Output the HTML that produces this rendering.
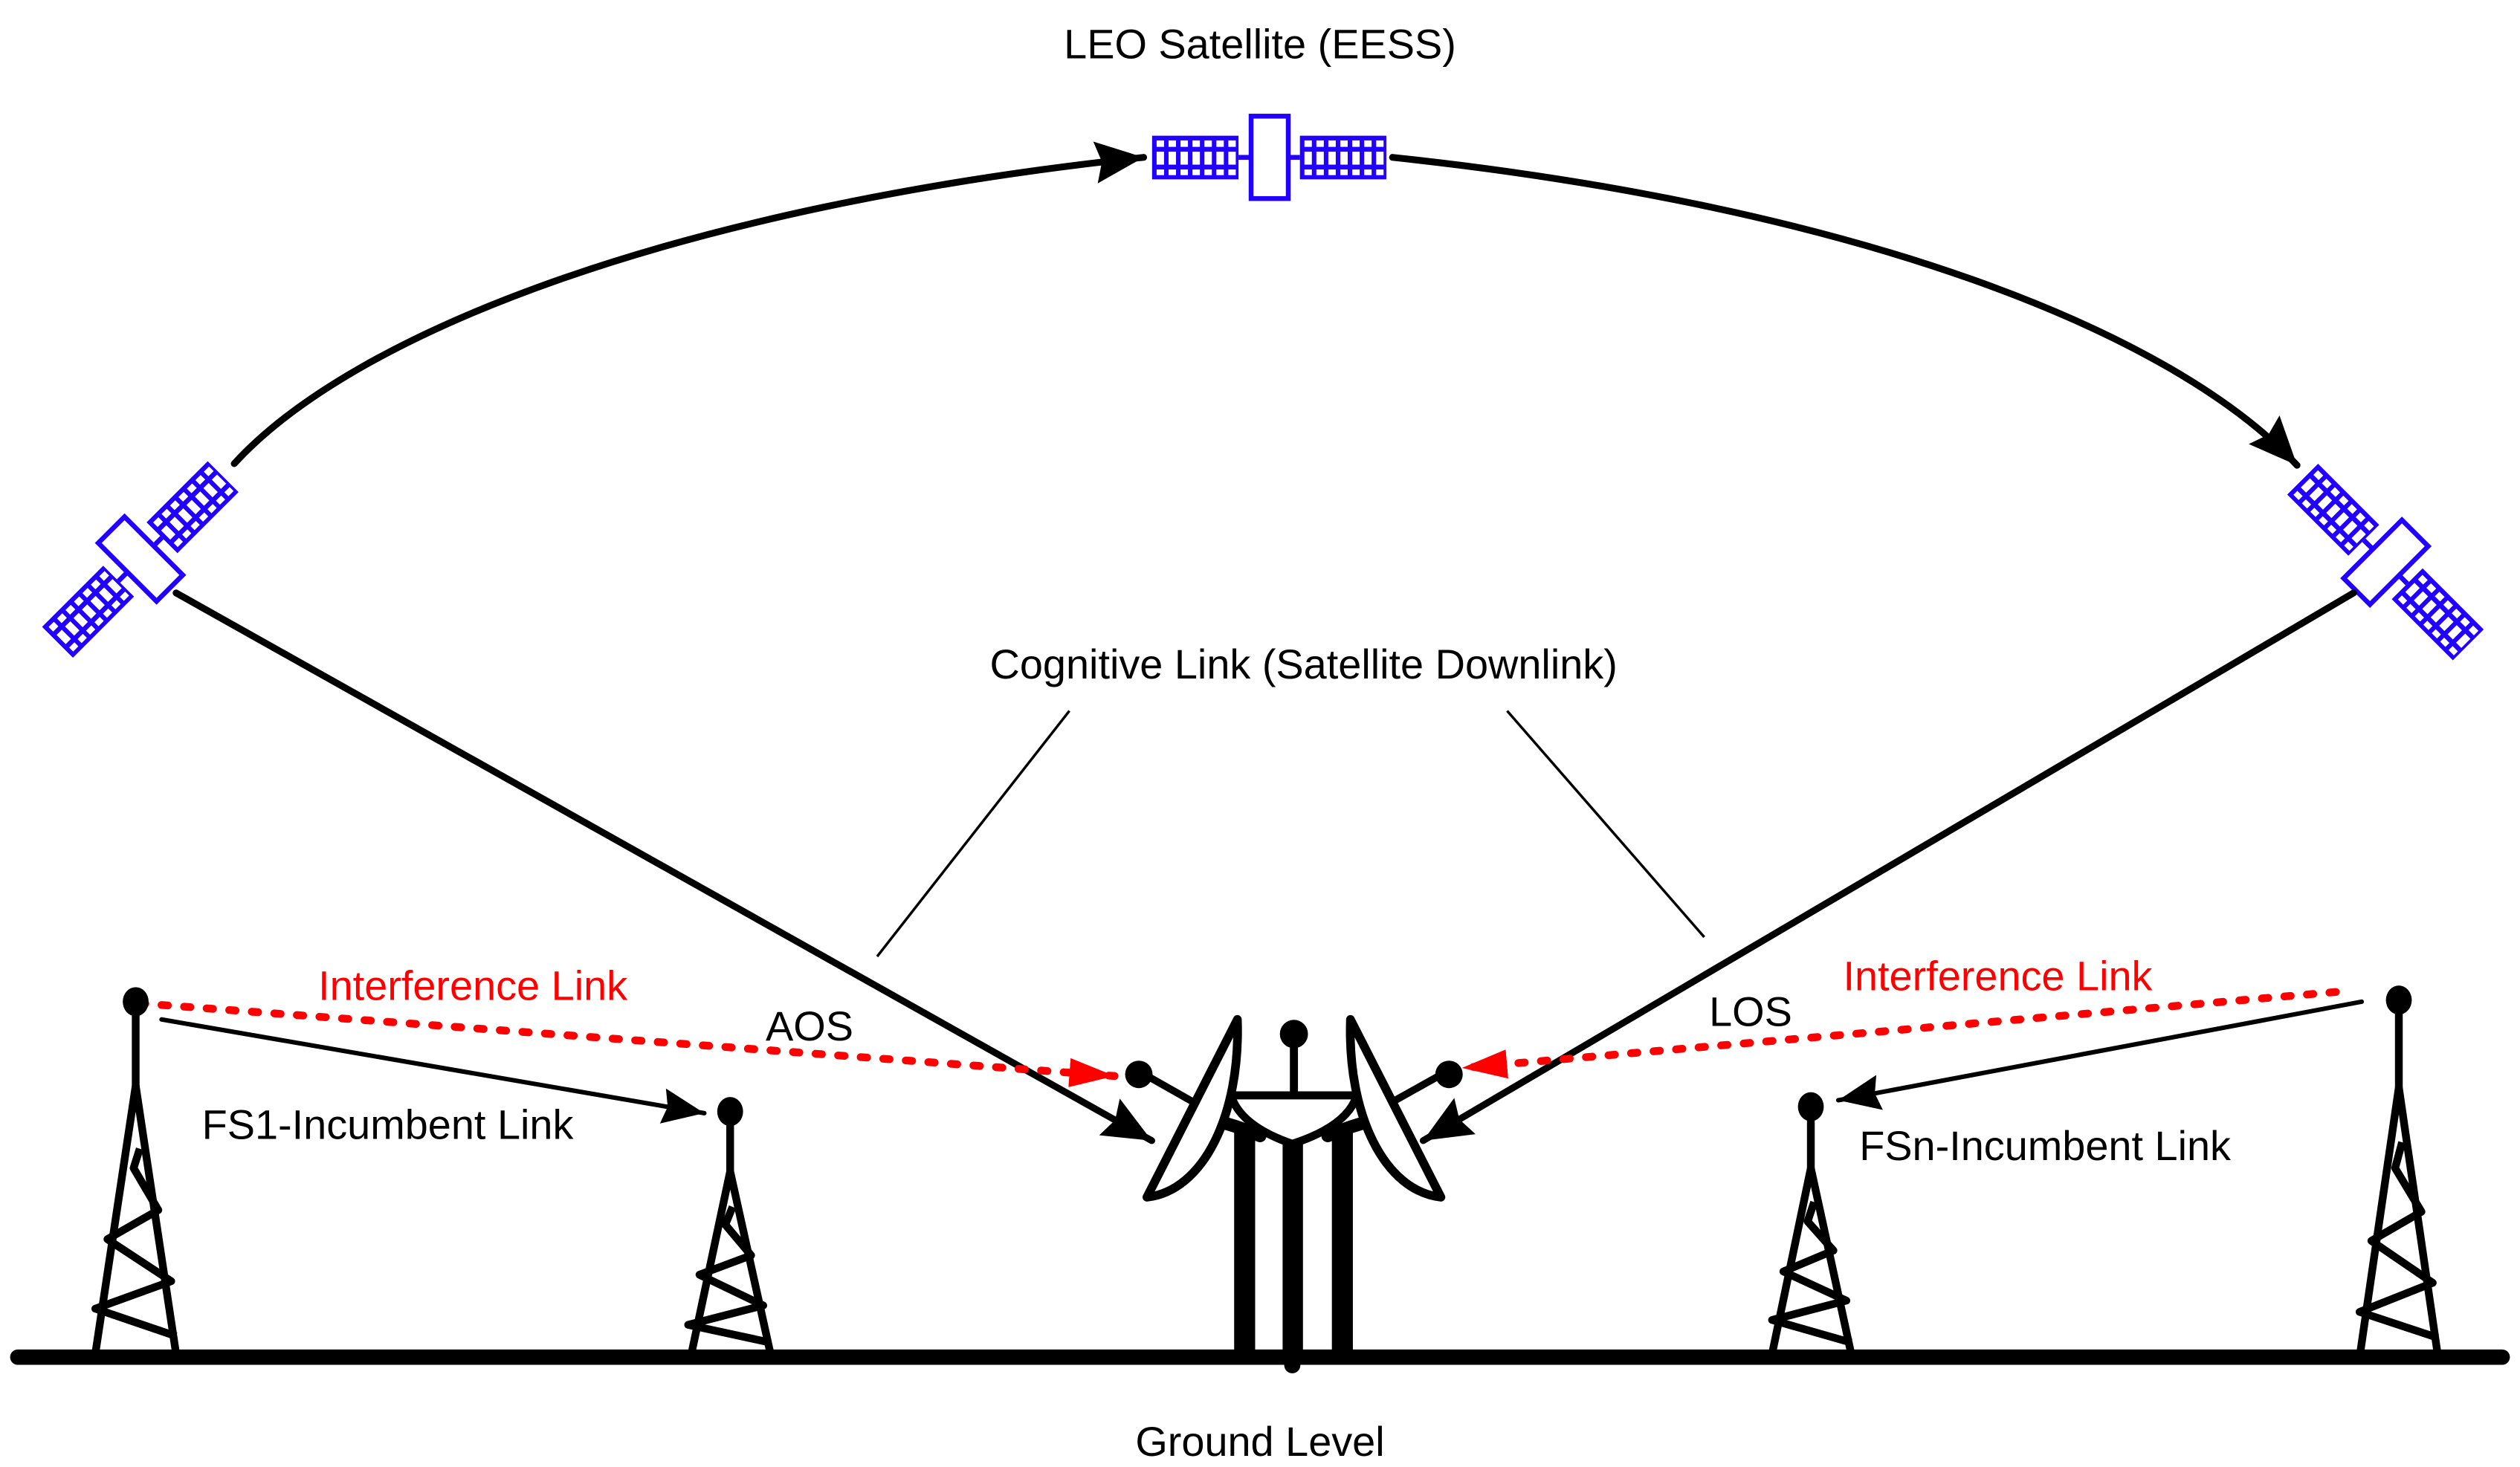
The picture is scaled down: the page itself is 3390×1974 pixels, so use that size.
<!DOCTYPE html>
<html><head><meta charset="utf-8"><style>
html,body{margin:0;padding:0;background:#fff;}
svg{display:block;}
text{font-family:"Liberation Sans",Arial,sans-serif;font-size:25.7px;}
</style></head><body>
<svg width="3390" height="1974" viewBox="0 0 1560 908" preserveAspectRatio="none" xmlns="http://www.w3.org/2000/svg">
<defs>
<marker id="ab" markerUnits="userSpaceOnUse" markerWidth="34" markerHeight="28" refX="30" refY="13" orient="auto" viewBox="0 0 34 28"><path d="M0,0 L30,13 L0,26 L4,13 Z" fill="#000"/></marker>
<marker id="as" markerUnits="userSpaceOnUse" markerWidth="30" markerHeight="24" refX="26" refY="11" orient="auto" viewBox="0 0 30 24"><path d="M0,0 L26,11 L0,22 L3,11 Z" fill="#000"/></marker>
<marker id="ar" markerUnits="userSpaceOnUse" markerWidth="32" markerHeight="22" refX="28" refY="9" orient="auto" viewBox="0 0 32 22"><path d="M0,0 L28,9 L0,18 Z" fill="#f00"/></marker>
<g id="sat">
  <rect x="-11.5" y="-25.5" width="23" height="51" fill="#fff" stroke="#2200ff" stroke-width="3"/>
  <line x1="-19.3" y1="0" x2="-11.5" y2="0" stroke="#2200ff" stroke-width="3"/>
  <line x1="11.5" y1="0" x2="18.7" y2="0" stroke="#2200ff" stroke-width="3"/>
  <g id="panel">
    <rect x="-72.8" y="-13.4" width="53.5" height="27" fill="#2200ff"/>
    <g fill="#fff">
      <rect x="-70" y="-10.5" width="4.6" height="4"/><rect x="-62.6" y="-10.5" width="4.6" height="4"/><rect x="-55.2" y="-10.5" width="4.6" height="4"/><rect x="-47.8" y="-10.5" width="4.6" height="4"/><rect x="-40.4" y="-10.5" width="4.6" height="4"/><rect x="-33" y="-10.5" width="4.6" height="4"/><rect x="-25.6" y="-10.5" width="4.6" height="4"/>
      <rect x="-70" y="-3.5" width="4.6" height="8"/><rect x="-62.6" y="-3.5" width="4.6" height="8"/><rect x="-55.2" y="-3.5" width="4.6" height="8"/><rect x="-47.8" y="-3.5" width="4.6" height="8"/><rect x="-40.4" y="-3.5" width="4.6" height="8"/><rect x="-33" y="-3.5" width="4.6" height="8"/><rect x="-25.6" y="-3.5" width="4.6" height="8"/>
      <rect x="-70" y="7.5" width="4.6" height="3.5"/><rect x="-62.6" y="7.5" width="4.6" height="3.5"/><rect x="-55.2" y="7.5" width="4.6" height="3.5"/><rect x="-47.8" y="7.5" width="4.6" height="3.5"/><rect x="-40.4" y="7.5" width="4.6" height="3.5"/><rect x="-33" y="7.5" width="4.6" height="3.5"/><rect x="-25.6" y="7.5" width="4.6" height="3.5"/>
    </g>
  </g>
  <use href="#panel" transform="translate(91.5,0)"/>
</g>
</defs>

<use href="#sat" transform="translate(786,97.4)"/>
<use href="#sat" transform="translate(87,346) rotate(-45)"/>
<use href="#sat" transform="translate(1477,348) rotate(45)"/>

<g fill="none" stroke="#000" stroke-width="4.2" stroke-linecap="round">
<path d="M145,287 C220,205 420,128 708,97.4" marker-end="url(#ab)"/>
<path d="M862,97.4 C1150,128 1345,205 1422,288" marker-end="url(#ab)"/>
<line x1="109" y1="367" x2="713" y2="706" marker-end="url(#ab)"/>
<line x1="1457" y1="367" x2="881" y2="706" marker-end="url(#ab)"/>
</g>
<g stroke="#000" stroke-width="1.6">
<line x1="662" y1="440" x2="543" y2="592"/>
<line x1="933" y1="440" x2="1055" y2="580"/>
</g>
<g stroke="#000" stroke-width="2.8" stroke-linecap="round">
<line x1="100" y1="631" x2="436" y2="689" marker-end="url(#as)"/>
<line x1="1462" y1="620" x2="1138" y2="681" marker-end="url(#as)"/>
</g>
<g stroke="#f00" stroke-width="4.8" stroke-linecap="round" stroke-dasharray="4,10" fill="none">
<line x1="86" y1="621" x2="690" y2="666" marker-end="url(#ar)"/>
<line x1="1446" y1="614" x2="905" y2="661" marker-end="url(#ar)"/>
</g>

<g fill="none" stroke="#000" stroke-width="4.8" stroke-linejoin="round">
<line x1="84" y1="620" x2="84" y2="673"/>
<polyline points="59,838 84,672 109,838"/>
<polyline points="86.5,711 82.7,723 98,749 66.5,767 106,793 59,810 109,827"/>
<line x1="452" y1="685" x2="452" y2="725"/>
<polyline points="428,838 452,725 477,838"/>
<polyline points="453.5,747 449,758 465,777 433,789 472.5,808 426,820 477,831"/>
<line x1="1121" y1="682" x2="1121" y2="723"/>
<polyline points="1097,838 1121,723 1146,838"/>
<polyline points="1123,744 1119,756 1135,774 1104,787 1143,805 1097,817 1146,831"/>
<line x1="1485" y1="617" x2="1485" y2="673"/>
<polyline points="1461,838 1485,673 1509,838"/>
<polyline points="1487,707 1482.7,723 1499,750 1468,768 1506,794 1460.7,812 1509,828"/>
</g>
<g fill="#000">
<ellipse cx="84" cy="620" rx="8" ry="9"/>
<ellipse cx="452" cy="688" rx="8" ry="9"/>
<ellipse cx="1121" cy="685" rx="8" ry="9"/>
<ellipse cx="1485" cy="619" rx="8" ry="9"/>
</g>

<g fill="#000">
<rect x="764" y="701" width="13" height="137"/>
<rect x="794" y="705" width="12.6" height="133"/>
<rect x="824.5" y="701" width="13" height="137"/>
</g>
<g fill="none" stroke="#000" stroke-linecap="round">
<path d="M749,693 Q764,696 780,703" stroke-width="8"/>
<path d="M853,693 Q838,696 822,703" stroke-width="8"/>
<line x1="801" y1="640" x2="801" y2="675" stroke-width="5"/>
<line x1="705" y1="663" x2="742" y2="684" stroke-width="4.5"/>
<line x1="896" y1="663" x2="862" y2="682" stroke-width="4.5"/>
</g>
<path d="M762,678 L840,678 Q834,697 800,708 Q768,697 762,678 Z" fill="#fff" stroke="#000" stroke-width="5" stroke-linejoin="round"/>
<path d="M766,631 L710,741 C745,737 768,690 766,631 Z" fill="#fff" stroke="#000" stroke-width="5.4" stroke-linejoin="round"/>
<path d="M836,631 L892,741 C857,737 834,690 836,631 Z" fill="#fff" stroke="#000" stroke-width="5.4" stroke-linejoin="round"/>
<g fill="#000">
<ellipse cx="801" cy="640" rx="8.7" ry="8.8"/>
<ellipse cx="705" cy="665" rx="8.5" ry="8.5"/>
<ellipse cx="897" cy="665" rx="8.5" ry="8.5"/>
</g>

<line x1="11" y1="840" x2="1549" y2="840" stroke="#000" stroke-width="9.5" stroke-linecap="round"/>
<ellipse cx="800" cy="845" rx="5" ry="5" fill="#000"/>

<text x="780" y="36" text-anchor="middle">LEO Satellite (EESS)</text>
<text x="807" y="420" text-anchor="middle">Cognitive Link (Satellite Downlink)</text>
<text x="474" y="644">AOS</text>
<text x="1058" y="635">LOS</text>
<text x="197" y="619" fill="#f00">Interference Link</text>
<text x="1141" y="613" fill="#f00">Interference Link</text>
<text x="125" y="705">FS1-Incumbent Link</text>
<text x="1151" y="718">FSn-Incumbent Link</text>
<text x="780" y="901" text-anchor="middle">Ground Level</text>
</svg>
</body></html>
